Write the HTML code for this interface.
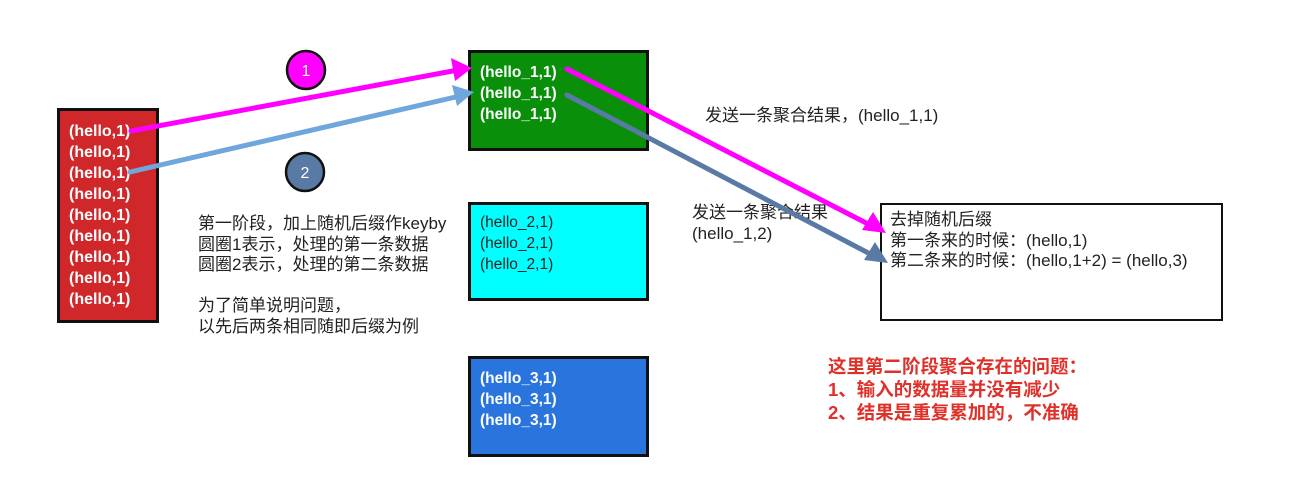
<!DOCTYPE html>
<html><head><meta charset="utf-8"><style>
body{margin:0;width:1294px;height:497px;background:#fff;position:relative;overflow:hidden;font-family:"Liberation Sans","Noto Sans CJK SC",sans-serif;}
.b{position:absolute;border:3px solid #111;box-sizing:border-box;}
.w{color:#fff;font-weight:bold;font-size:15.5px;line-height:21px;}
.t{position:absolute;font-size:17px;line-height:20.5px;color:#222;white-space:nowrap;}
</style></head><body>
<div class="b w" style="left:57px;top:108px;width:102px;height:215px;background:#d0272a;padding:10px 0 0 9px;font-size:16px;">(hello,1)<br>(hello,1)<br>(hello,1)<br>(hello,1)<br>(hello,1)<br>(hello,1)<br>(hello,1)<br>(hello,1)<br>(hello,1)</div>
<div class="b w" style="left:468px;top:50px;width:181px;height:101px;background:#0a8f0a;padding:9px 0 0 9px;">(hello_1,1)<br>(hello_1,1)<br>(hello_1,1)</div>
<div class="b w" style="left:468px;top:202px;width:181px;height:99px;background:#00ffff;color:#222;font-weight:normal;padding:7px 0 0 9px;">(hello_2,1)<br>(hello_2,1)<br>(hello_2,1)</div>
<div class="b w" style="left:468px;top:356px;width:181px;height:101px;background:#2a75dd;padding:9px 0 0 9px;">(hello_3,1)<br>(hello_3,1)<br>(hello_3,1)</div>
<div class="b" style="left:880px;top:203px;width:343px;height:118px;border-width:2px;padding:5px 0 0 8px;font-size:17px;line-height:20.5px;color:#222;">去掉随机后缀<br>第一条来的时候：(hello,1)<br>第二条来的时候：(hello,1+2) = (hello,3)</div>
<div class="t" style="left:198px;top:214px;">第一阶段，加上随机后缀作keyby<br>圆圈1表示，处理的第一条数据<br>圆圈2表示，处理的第二条数据<br><br>为了简单说明问题，<br>以先后两条相同随即后缀为例</div>
<div class="t" style="left:705px;top:106px;">发送一条聚合结果，(hello_1,1)</div>
<div class="t" style="left:692px;top:203px;">发送一条聚合结果<br>(hello_1,2)</div>
<div class="t" style="left:828px;top:355px;color:#e0302a;font-weight:bold;line-height:23px;font-size:18.5px;">这里第二阶段聚合存在的问题：<br>1、输入的数据量并没有减少<br>2、结果是重复累加的，不准确</div>
<svg width="1294" height="497" style="position:absolute;left:0;top:0">
<circle cx="306" cy="70" r="19" fill="#ff00ff" stroke="#111" stroke-width="2.5"/>
<text x="306" y="76" font-size="16" fill="#fff" text-anchor="middle" font-family="Liberation Sans">1</text>
<circle cx="305" cy="172" r="19" fill="#5a7aa6" stroke="#111" stroke-width="2.5"/>
<text x="305" y="178" font-size="16" fill="#fff" text-anchor="middle" font-family="Liberation Sans">2</text>
<g stroke-width="5" fill="none" stroke-linecap="round">
<line x1="131" y1="131" x2="458" y2="70" stroke="#ff00ff"/>
<line x1="130" y1="172" x2="460" y2="96" stroke="#6fa6dc"/>
<line x1="567" y1="69" x2="872" y2="226" stroke="#ff00ff"/>
<line x1="567" y1="95" x2="874" y2="256" stroke="#5a7aa6"/>
</g>
<polygon points="472,68 451,58 455,81" fill="#ff00ff"/>
<polygon points="474,92 452,85 457,106" fill="#6fa6dc"/>
<polygon points="886,233 862,230 873,212" fill="#ff00ff"/>
<polygon points="888,263 864,260 875,242" fill="#5a7aa6"/>
</svg>
</body></html>
